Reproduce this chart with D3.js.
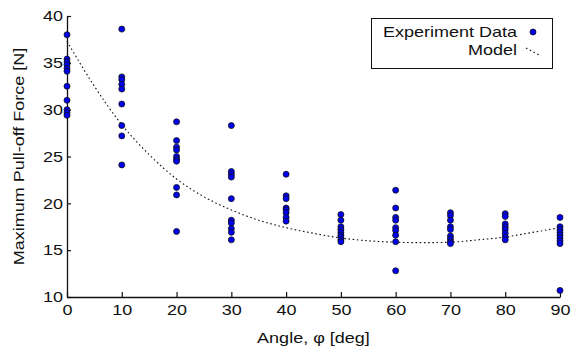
<!DOCTYPE html>
<html>
<head>
<meta charset="utf-8">
<script src="https://cdn.jsdelivr.net/npm/d3@7"></script>
<style>
  body { margin: 0; background: #fff; }
  text { font-family: "Liberation Sans", Arial, sans-serif; fill: #111; }
</style>
</head>
<body>
<div id="chart"></div>
<script>
// measured pull-off force per angle
const angles = [0, 10, 20, 30, 40, 50, 60, 70, 80, 90];
const forces = [
  [38.0, 35.4, 35.1, 34.8, 34.4, 34.1, 32.5, 31.0, 30.0, 29.7, 29.4],
  [38.6, 33.5, 33.2, 32.7, 32.2, 30.6, 28.3, 27.2, 24.1],
  [28.7, 26.7, 26.0, 25.7, 25.0, 24.7, 24.5, 21.7, 20.9, 17.0],
  [28.3, 23.4, 23.1, 22.8, 20.5, 18.2, 17.9, 17.3, 16.9, 16.1],
  [23.1, 20.8, 20.5, 19.5, 19.3, 19.0, 18.5, 18.1],
  [18.8, 18.2, 17.5, 17.2, 16.9, 16.6, 16.4, 16.1, 15.9],
  [21.4, 19.5, 18.5, 18.2, 17.4, 17.1, 16.6, 15.9, 12.8],
  [19.0, 18.7, 18.2, 17.5, 17.2, 16.5, 16.2, 15.9, 15.7],
  [18.9, 18.6, 17.8, 17.5, 17.2, 16.8, 16.4, 16.1],
  [18.5, 17.5, 17.2, 16.9, 16.6, 16.3, 16.0, 15.7, 10.7]
];

// model curve
const modelAngles = [0, 5, 10, 15, 20, 25, 30, 35, 40, 45, 50, 55, 60, 65, 70, 75, 80, 85, 90];
const modelForces = [37.3, 32.5, 28.4, 25.2, 22.6, 20.7, 19.3, 18.2, 17.4, 16.8, 16.3, 16.0, 15.85, 15.8, 15.85, 16.1, 16.4, 16.9, 17.4];

const xTicks = [0, 10, 20, 30, 40, 50, 60, 70, 80, 90];
const yTicks = [10, 15, 20, 25, 30, 35, 40];

const width = 571, height = 349;
const margin = { left: 67, right: 11, top: 16, bottom: 52 };
const stretch = 1.2; // the original font runs wider than Arial

const svg = d3.select("#chart")
  .append("svg")
  .attr("width", width)
  .attr("height", height);

const x = d3.scaleLinear().domain([0, 90]).range([margin.left, width - margin.right]);
const y = d3.scaleLinear().domain([10, 40]).range([height - margin.bottom, margin.top]);

// axes, ticks point inward

const xAxis = svg.append("g")
  .attr("transform", "translate(0," + y(10) + ")")
  .call(d3.axisBottom(x).tickValues(xTicks).tickSizeInner(-5).tickSizeOuter(0).tickPadding(7));

const yAxis = svg.append("g")
  .attr("transform", "translate(" + x(0) + ",0)")
  .call(d3.axisLeft(y).tickValues(yTicks).tickSizeInner(-4).tickSizeOuter(0).tickPadding(4));

[xAxis, yAxis].forEach(function (g) {
  g.select(".domain").attr("stroke", "#111").attr("stroke-width", 1.3);
  g.selectAll(".tick line").attr("stroke", "#111").attr("stroke-width", 1.2);
  g.selectAll(".tick text").style("font-size", "15px").attr("fill", "#111");
});

// model line

const line = d3.line()
  .x((d, i) => x(modelAngles[i]))
  .y((d) => y(d))
  .curve(d3.curveMonotoneX);

svg.append("path")
  .datum(modelForces)
  .attr("d", line)
  .attr("fill", "none")
  .attr("stroke", "#111")
  .attr("stroke-width", 1.1)
  .attr("stroke-dasharray", "1.6,2.6");

// experiment points

const points = [];
angles.forEach(function (a, i) {
  forces[i].forEach(function (f) { points.push({ a: a, f: f }); });
});

svg.append("g")
  .selectAll("circle")
  .data(points)
  .join("circle")
  .attr("cx", (d) => x(d.a))
  .attr("cy", (d) => y(d.f))
  .attr("r", 3)
  .attr("fill", "#0000f0")
  .attr("stroke", "#111")
  .attr("stroke-width", 0.8);

// axis labels

svg.append("text")
  .attr("x", (x(0) + x(90)) / 2)
  .attr("y", 343)
  .attr("text-anchor", "middle")
  .style("font-size", "15px")
  .text("Angle, φ [deg]");

svg.append("text")
  .attr("transform", "translate(24," + (y(25)) + ") rotate(-90)")
  .attr("text-anchor", "middle")
  .style("font-size", "15px")
  .text("Maximum Pull-off Force [N]");

// legend

const legend = svg.append("g");
legend.append("rect")
  .attr("x", 371.5).attr("y", 18.5)
  .attr("width", 181).attr("height", 50)
  .attr("fill", "#fff")
  .attr("stroke", "#111")
  .attr("stroke-width", 1);

legend.append("text")
  .attr("x", 517).attr("y", 37)
  .attr("text-anchor", "end")
  .style("font-size", "15px")
  .text("Experiment Data");

legend.append("text")
  .attr("x", 517).attr("y", 55)
  .attr("text-anchor", "end")
  .style("font-size", "15px")
  .text("Model");

legend.append("circle")
  .attr("cx", 533).attr("cy", 32)
  .attr("r", 3)
  .attr("fill", "#0000f0")
  .attr("stroke", "#111")
  .attr("stroke-width", 0.8);

legend.append("line")
  .attr("x1", 526).attr("y1", 48)
  .attr("x2", 541).attr("y2", 56)
  .attr("stroke", "#111")
  .attr("stroke-width", 1.1)
  .attr("stroke-dasharray", "1.6,2.6");

// widen all text to match the original lettering
svg.selectAll("text").each(function () {
  const len = this.getComputedTextLength();
  d3.select(this)
    .attr("textLength", len * stretch)
    .attr("lengthAdjust", "spacingAndGlyphs");
});
</script>
</body>
</html>
